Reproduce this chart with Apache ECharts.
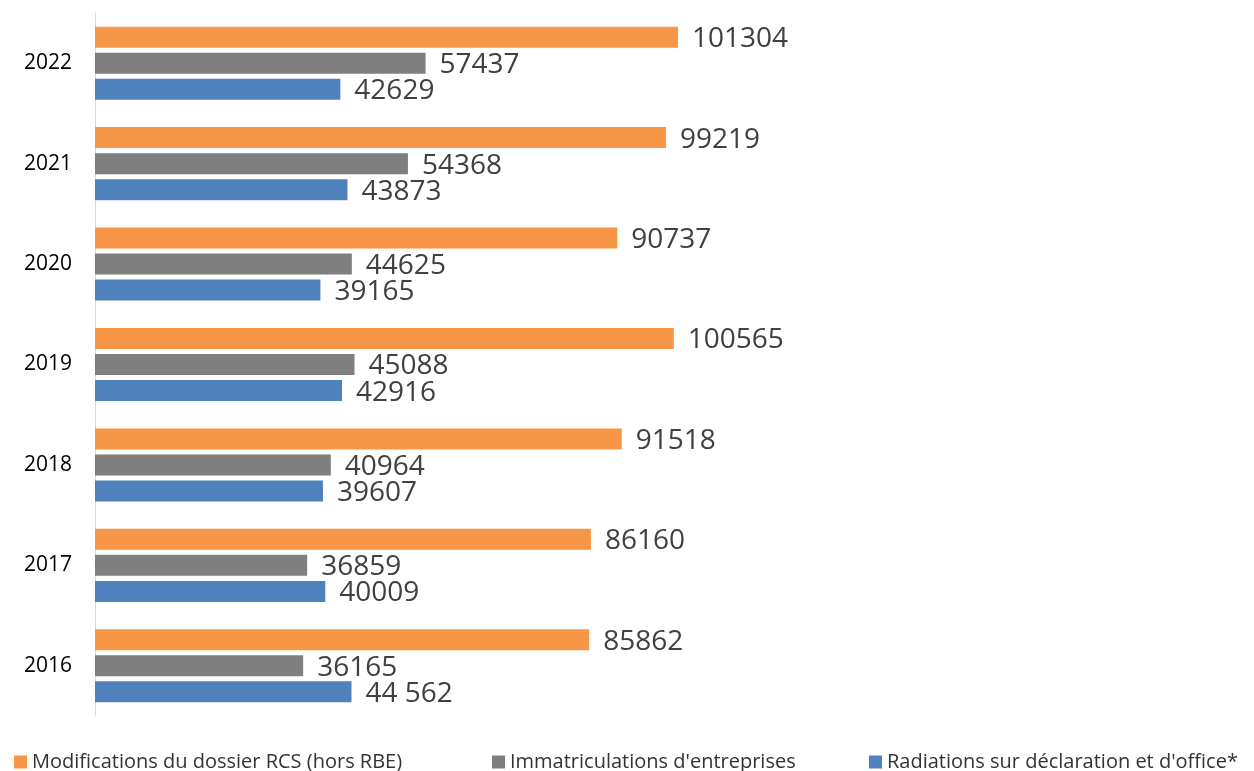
<!DOCTYPE html>
<html>
<head>
<meta charset="utf-8">
<script src="https://cdn.jsdelivr.net/npm/echarts@6/dist/echarts.min.js"></script>
<style>
  html, body { margin: 0; padding: 0; background: #fff; }
  #chart { width: 1254px; height: 771px; }
</style>
</head>
<body>
<div id="chart"></div>
<script>
const years = ['2016', '2017', '2018', '2019', '2020', '2021', '2022']
const modifications = [85862, 86160, 91518, 100565, 90737, 99219, 101304]
const immatriculations = [36165, 36859, 40964, 45088, 44625, 54368, 57437]
const radiations = [44562, 40009, 39607, 42916, 39165, 43873, 42629]
// le libellé 2016 des radiations est écrit avec une espace
const radiationsText = ['44 562', '40009', '39607', '42916', '39165', '43873', '42629']

const names = [
  'Modifications du dossier RCS (hors RBE)',
  "Immatriculations d'entreprises",
  "Radiations sur déclaration et d'office*",
]
const colors = ['#F79646', '#7F7F7F', '#4F81BD']
const font = "'Open Sans', 'Noto Sans', sans-serif"

const chart = echarts.init(document.getElementById('chart'))

const label = (fmt) => ({
  show: true,
  position: 'right',
  distance: 14,
  offset: [0, 2],
  color: '#404040',
  fontSize: 28,
  fontFamily: font,
  formatter: fmt,
})

const legend = (i, left) => ({
  left: left,
  top: 747,
  icon: 'rect',
  itemWidth: 13,
  itemHeight: 13,
  data: [names[i]],
  textStyle: { color: '#333', fontSize: 20, fontFamily: font },
})

// la première série est dessinée en haut du groupe
chart.setOption({
  animation: false,
  legend: [legend(0, 9), legend(1, 487), legend(2, 864)],
  grid: { left: 95, right: 123, top: 13, height: 703 },
  xAxis: { type: 'value', min: 0, max: 180000, show: false },
  yAxis: {
    type: 'category',
    data: years,
    axisTick: { show: false },
    axisLine: { lineStyle: { color: '#d9d9d9', width: 1 } },
    axisLabel: { color: '#000', fontSize: 21, fontFamily: font, margin: 23 },
  },
  series: [
    {
      name: names[0],
      type: 'bar',
      data: modifications,
      barWidth: 21,
      barGap: '24%',
      itemStyle: { color: colors[0] },
      label: label('{c}'),
    },
    {
      name: names[1],
      type: 'bar',
      data: immatriculations,
      barWidth: 21,
      barGap: '24%',
      itemStyle: { color: colors[1] },
      label: label('{c}'),
    },
    {
      name: names[2],
      type: 'bar',
      data: radiations,
      barWidth: 21,
      barGap: '24%',
      itemStyle: { color: colors[2] },
      label: label((p) => radiationsText[p.dataIndex]),
    },
  ],
})
</script>
</body>
</html>
